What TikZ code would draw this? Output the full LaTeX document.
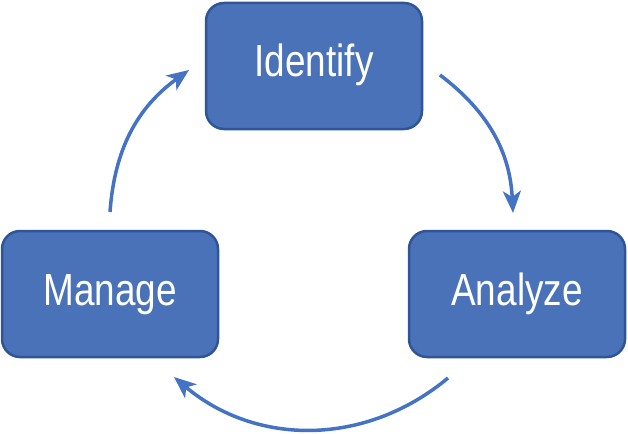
\documentclass[tikz,border=0pt]{standalone}
\usepackage{fontspec}
\setmainfont{Liberation Sans}[FakeStretch=0.82]
\usetikzlibrary{arrows.meta}

\definecolor{boxfill}{HTML}{4A72B8}
\definecolor{boxline}{HTML}{2F5597}
\definecolor{arrowblue}{HTML}{4472C4}

\begin{document}
\begin{tikzpicture}[x=1pt,y=-1pt,
    stage/.style={draw=boxline, line width=2.5pt, fill=boxfill, rounded corners=18pt,
        minimum width=216pt, minimum height=126pt, text=white,
        text height=32pt, text depth=10pt,
        font=\fontsize{45}{50}\selectfont},
    cycle/.style={draw=arrowblue, line width=3.5pt, -{Stealth[length=22pt,width=18pt,inset=6pt]}}]
    \useasboundingbox (0,0) rectangle (628,433);

    % Stufen
    \node[stage] (identify) at (314,66) {Identify};
    \node[stage] (analyze) at (517,294) {Analyze};
    \node[stage] (manage) at (110,294) {Manage};

    % freie Enden der Pfeile
    \coordinate (ia1) at (440,75);
    \coordinate (ia2) at (513,213);
    \coordinate (am1) at (448,378);
    \coordinate (am2) at (174,377);
    \coordinate (mi1) at (110,212);
    \coordinate (mi2) at (189,70);

    % Kreislauf
    \draw[cycle] (ia1) to[bend left=25] (ia2);
    \draw[cycle] (am1) to[bend left=40] (am2);
    \draw[cycle] (mi1) to[bend left=25] (mi2);
\end{tikzpicture}
\end{document}
